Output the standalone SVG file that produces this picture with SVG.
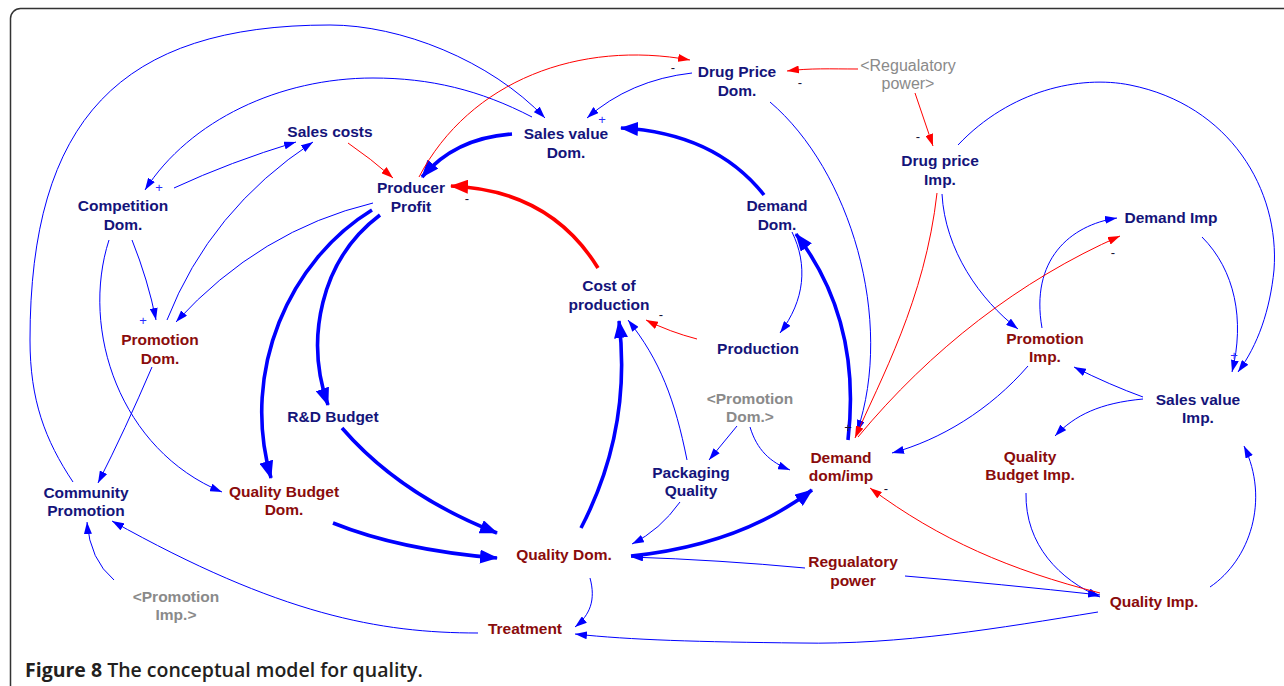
<svg xmlns="http://www.w3.org/2000/svg" width="1284" height="686" viewBox="0 0 1284 686">
<defs>
<style>
.n{font-family:"Liberation Sans",Arial,sans-serif;font-weight:bold;font-size:15.5px;text-anchor:middle}
.b{fill:#14147a}
.r{fill:#8a0c0c}
.g{fill:#8a8a8a}
.gn{font-weight:normal;font-size:16px}
.t{fill:none;stroke:#0000ff;stroke-width:1}
.T{fill:none;stroke:#0000ff;stroke-width:3.6}
.rt{fill:none;stroke:#ff0000;stroke-width:1}
.RT{fill:none;stroke:#ff0000;stroke-width:3.6}
.s{font-family:"Liberation Sans",Arial,sans-serif;font-size:13px;text-anchor:middle}
.sp{fill:#2a2aff}
.sm{fill:#111133}
.cap{font-family:"Open Sans","Liberation Sans",sans-serif;font-size:19.5px;fill:#231f20;font-weight:600}
</style>
<marker id="ab" viewBox="0 0 12 8" refX="12" refY="4" markerWidth="12" markerHeight="8" markerUnits="userSpaceOnUse" orient="auto"><path d="M0,0 L12,4 L0,8 z" fill="#0000ff"/></marker>
<marker id="ar" viewBox="0 0 12 8" refX="12" refY="4" markerWidth="12" markerHeight="8" markerUnits="userSpaceOnUse" orient="auto"><path d="M0,0 L12,4 L0,8 z" fill="#ff0000"/></marker>
<marker id="AB" viewBox="0 0 18 14" refX="17" refY="7" markerWidth="18" markerHeight="14" markerUnits="userSpaceOnUse" orient="auto"><path d="M0,0 L18,7 L0,14 z" fill="#0000ff"/></marker>
<marker id="AR" viewBox="0 0 18 14" refX="17" refY="7" markerWidth="18" markerHeight="14" markerUnits="userSpaceOnUse" orient="auto"><path d="M0,0 L18,7 L0,14 z" fill="#ff0000"/></marker>
</defs>
<rect x="0" y="0" width="1284" height="686" fill="#ffffff"/>
<rect x="10.5" y="8.5" width="1300" height="700" rx="10" fill="none" stroke="#333333" stroke-width="1.5"/>

<g id="connectors">
<!-- thick blue -->
<path class="T" marker-end="url(#AB)" d="M512,134 Q455,138 422,177"/>
<path class="T" marker-end="url(#AB)" d="M764,195 Q715,133 621,128"/>
<path class="RT" marker-end="url(#AR)" d="M598,268 Q550,190 451,186"/>
<path class="T" marker-end="url(#AB)" d="M372,210 C290,260 240,370 271,478"/>
<path class="T" marker-end="url(#AB)" d="M380,215 C320,260 305,340 328,405"/>
<path class="T" marker-end="url(#AB)" d="M342,428 Q400,495 497,533"/>
<path class="T" marker-end="url(#AB)" d="M333,523 Q400,550 497,558"/>
<path class="T" marker-end="url(#AB)" d="M581,528 Q632,430 619,321"/>
<path class="T" marker-end="url(#AB)" d="M631,556 Q740,545 812,490"/>
<path class="T" marker-end="url(#AB)" d="M848,440 Q862,320 796,234"/>
<!-- thin blue -->
<path class="t" marker-end="url(#ab)" d="M73,482 C45,440 30,400 30,340 C30,120 120,25 330,25 C400,25 490,60 545,118"/>
<path class="t" marker-end="url(#ab)" d="M532,117 C480,90 430,78 373,78 C280,78 190,120 145,190"/>
<path class="t" marker-end="url(#ab)" d="M174,188 Q230,162 296,142"/>
<path class="t" marker-end="url(#ab)" d="M167,320 Q210,210 313,142"/>
<path class="t" marker-end="url(#ab)" d="M373,203 Q260,230 176,322"/>
<path class="t" marker-end="url(#ab)" d="M132,240 Q148,280 156,320"/>
<path class="t" marker-end="url(#ab)" d="M109,240 C80,330 120,450 222,492"/>
<path class="t" marker-end="url(#ab)" d="M152,367 Q125,430 98,483"/>
<path class="t" marker-end="url(#ab)" d="M114,580 Q90,560 87,522"/>
<path class="t" marker-end="url(#ab)" d="M478,633 C380,633 280,615 112,521"/>
<path class="t" marker-end="url(#ab)" d="M692,73 Q630,80 587,118"/>
<path class="t" marker-end="url(#ab)" d="M770,102 C850,170 895,320 857,432"/>
<path class="t" marker-end="url(#ab)" d="M958,145 C1010,90 1080,75 1130,85 C1230,105 1280,190 1274,270 C1270,310 1258,345 1238,372"/>
<path class="t" marker-end="url(#ab)" d="M942,194 C945,250 980,300 1018,329"/>
<path class="t" marker-end="url(#ab)" d="M1042,328 C1030,260 1070,225 1117,218"/>
<path class="t" marker-end="url(#ab)" d="M1202,237 C1235,270 1245,320 1232,372"/>
<path class="t" marker-end="url(#ab)" d="M1143,397 Q1110,385 1074,367"/>
<path class="t" marker-end="url(#ab)" d="M1143,399 C1100,403 1075,415 1055,436"/>
<path class="t" marker-end="url(#ab)" d="M1028,366 C990,410 940,440 892,453"/>
<path class="t" marker-end="url(#ab)" d="M1026,493 C1025,545 1060,580 1100,597"/>
<path class="t" marker-end="url(#ab)" d="M1210,587 C1250,560 1270,500 1244,446"/>
<path class="t" marker-end="url(#ab)" d="M905,576 Q1000,584 1100,595"/>
<path class="t" marker-end="url(#ab)" d="M805,568 Q720,560 631,557"/>
<path class="t" marker-end="url(#ab)" d="M1098,612 C1000,628 900,645 800,643 C700,642 630,640 575,634"/>
<path class="t" marker-end="url(#ab)" d="M590,578 C596,600 590,615 575,627"/>
<path class="t" marker-end="url(#ab)" d="M680,502 Q660,530 632,544"/>
<path class="t" marker-end="url(#ab)" d="M687,460 C675,400 660,360 628,320"/>
<path class="t" marker-end="url(#ab)" d="M737,426 L709,460"/>
<path class="t" marker-end="url(#ab)" d="M750,427 C757,450 770,462 790,470"/>
<path class="t" marker-end="url(#ab)" d="M792,232 C808,265 805,300 780,333"/>
<!-- thin red -->
<path class="rt" marker-end="url(#ar)" d="M937,193 C925,300 880,380 855,438"/>
<path class="rt" marker-end="url(#ar)" d="M858,437 C930,350 1020,280 1120,236"/>
<path class="rt" marker-end="url(#ar)" d="M1100,593 C1010,570 940,540 870,488"/>
<path class="rt" marker-end="url(#ar)" d="M858,69 C830,69 810,68 787,71"/>
<path class="rt" marker-end="url(#ar)" d="M915,93 L933,146"/>
<path class="rt" marker-end="url(#ar)" d="M419,177 C470,80 580,40 690,60"/>
<path class="rt" marker-end="url(#ar)" d="M348,143 Q370,158 393,178"/>
<path class="rt" marker-end="url(#ar)" d="M697,339 Q670,332 646,320"/>
<!-- polarity -->
<text class="s sp" x="159" y="192">+</text>
<text class="s sp" x="143" y="325">+</text>
<text class="s sp" x="602" y="124">+</text>
<text class="s sp" x="1234" y="360">+</text>
<text class="s sm" x="848" y="432">+</text>
<text class="s sm" x="673" y="72">-</text>
<text class="s sm" x="800" y="87">-</text>
<text class="s sm" x="467" y="203">-</text>
<text class="s sm" x="918" y="141">-</text>
<text class="s sm" x="1113" y="257">-</text>
<text class="s sm" x="661" y="319">-</text>
<text class="s sm" x="886" y="493">-</text>
</g>

<g id="sales-costs"><text class="n b" x="330" y="136.5">Sales costs</text></g>
<g id="producer-profit"><text class="n b" x="411" y="193">Producer<tspan x="411" dy="19">Profit</tspan></text></g>
<g id="sales-value-dom"><text class="n b" x="566" y="139">Sales value<tspan x="566" dy="18.5">Dom.</tspan></text></g>
<g id="drug-price-dom"><text class="n b" x="737" y="77">Drug Price<tspan x="737" dy="18.5">Dom.</tspan></text></g>
<g id="regulatory-power-shadow"><text class="n g gn" x="908" y="71">&lt;Regualatory<tspan x="908" dy="18">power&gt;</tspan></text></g>
<g id="drug-price-imp"><text class="n b" x="940" y="166">Drug price<tspan x="940" dy="18.5">Imp.</tspan></text></g>
<g id="demand-imp"><text class="n b" x="1171" y="223">Demand Imp</text></g>
<g id="competition-dom"><text class="n b" x="123" y="211">Competition<tspan x="123" dy="18.5">Dom.</tspan></text></g>
<g id="promotion-dom"><text class="n r" x="160" y="345">Promotion<tspan x="160" dy="18.5">Dom.</tspan></text></g>
<g id="demand-dom"><text class="n b" x="777" y="211">Demand<tspan x="777" dy="18.5">Dom.</tspan></text></g>
<g id="cost-of-production"><text class="n b" x="609" y="291">Cost of<tspan x="609" dy="18.5">production</tspan></text></g>
<g id="production"><text class="n b" x="758" y="354">Production</text></g>
<g id="promotion-imp"><text class="n r" x="1045" y="344">Promotion<tspan x="1045" dy="18">Imp.</tspan></text></g>
<g id="sales-value-imp"><text class="n b" x="1198" y="405">Sales value<tspan x="1198" dy="18">Imp.</tspan></text></g>
<g id="rd-budget"><text class="n b" x="333" y="422">R&amp;D Budget</text></g>
<g id="promotion-dom-shadow"><text class="n g" x="750" y="404">&lt;Promotion<tspan x="750" dy="18">Dom.&gt;</tspan></text></g>
<g id="packaging-quality"><text class="n b" x="691" y="478">Packaging<tspan x="691" dy="18">Quality</tspan></text></g>
<g id="demand-dom-imp"><text class="n r" x="841" y="463">Demand<tspan x="841" dy="18">dom/imp</tspan></text></g>
<g id="quality-budget-imp"><text class="n r" x="1030" y="462">Quality<tspan x="1030" dy="17.5">Budget Imp.</tspan></text></g>
<g id="community-promotion"><text class="n b" x="86" y="498">Community<tspan x="86" dy="18">Promotion</tspan></text></g>
<g id="quality-budget-dom"><text class="n r" x="284" y="497">Quality Budget<tspan x="284" dy="18">Dom.</tspan></text></g>
<g id="quality-dom"><text class="n r" x="564" y="560">Quality Dom.</text></g>
<g id="regulatory-power"><text class="n r" x="853" y="567">Regualatory<tspan x="853" dy="18.5">power</tspan></text></g>
<g id="quality-imp"><text class="n r" x="1154" y="607">Quality Imp.</text></g>
<g id="promotion-imp-shadow"><text class="n g" x="176" y="602">&lt;Promotion<tspan x="176" dy="17.5">Imp.&gt;</tspan></text></g>
<g id="treatment"><text class="n r" x="525" y="634">Treatment</text></g>

<text class="cap" x="25" y="677"><tspan font-weight="bold">Figure 8</tspan> The conceptual model for quality.</text>
</svg>
